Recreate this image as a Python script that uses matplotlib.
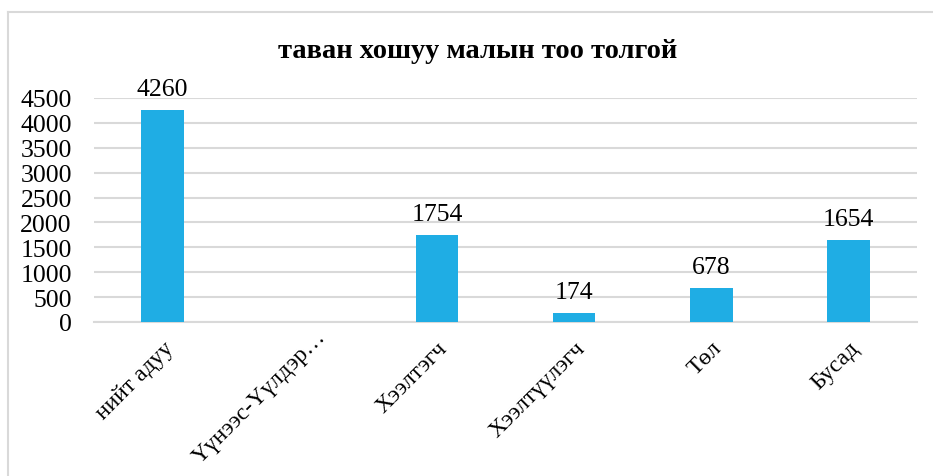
import numpy as np
import matplotlib
matplotlib.use("Agg")
import matplotlib.pyplot as plt
from matplotlib.lines import Line2D
from matplotlib.transforms import ScaledTranslation

plt.rcParams['font.family'] = ['Liberation Serif', 'DejaVu Serif']

categories = ['нийт адуу', 'Үүнээс-Үүлдэр…', 'Хээлтэгч', 'Хээлтүүлэгч', 'Төл', 'Бусад']
values = [4260, None, 1754, 174, 678, 1654]
title = 'таван хошуу малын тоо толгой'

bar_color = '#1FADE4'
grid_color = '#D9D9D9'

fig = plt.figure(figsize=(9.33, 4.77), dpi=100)
ax = fig.add_axes([0.1008, 0.3229, 0.8822, 0.4696])

x = np.arange(len(categories))
heights = [v if v is not None else 0 for v in values]
bars = ax.bar(x, heights, width=0.31, color=bar_color, zorder=3)

for xi, v in zip(x, values):
    if v is not None:
        ax.text(xi, v + 200, f'{v}', ha='center', va='bottom', fontsize=18.5)

ax.set_xlim(-0.5, len(categories) - 0.5)
ax.set_ylim(0, 4500)
ax.set_yticks(np.arange(0, 4501, 500))
ax.yaxis.grid(True, color=grid_color, linewidth=1.5, zorder=0)
ax.tick_params(axis='y', length=0, labelsize=18.5, pad=16)
ax.tick_params(axis='x', length=0, labelsize=17, pad=11)
ax.set_xticks(x)
labels = ax.set_xticklabels(categories, rotation=45, ha='right', rotation_mode='anchor')

# the truncated long label sits a bit higher and to the right
lab = labels[1]
lab.set_transform(lab.get_transform() + ScaledTranslation(0.15, 0.11, fig.dpi_scale_trans))

for side in ['top', 'right', 'left']:
    ax.spines[side].set_visible(False)
ax.spines['bottom'].set_color(grid_color)
ax.spines['bottom'].set_linewidth(1.5)

fig.text(0.512, 0.891, title, ha='center', va='center', fontsize=20.5, fontweight='bold')

# outer chart frame (top and left edges)
fig.add_artist(Line2D([8 / 933, 1.0], [1 - 13 / 477, 1 - 13 / 477], color=grid_color, linewidth=1.5))
fig.add_artist(Line2D([8 / 933, 8 / 933], [0, 1 - 13 / 477], color=grid_color, linewidth=1.5))

fig.savefig('out.png', dpi=100)
